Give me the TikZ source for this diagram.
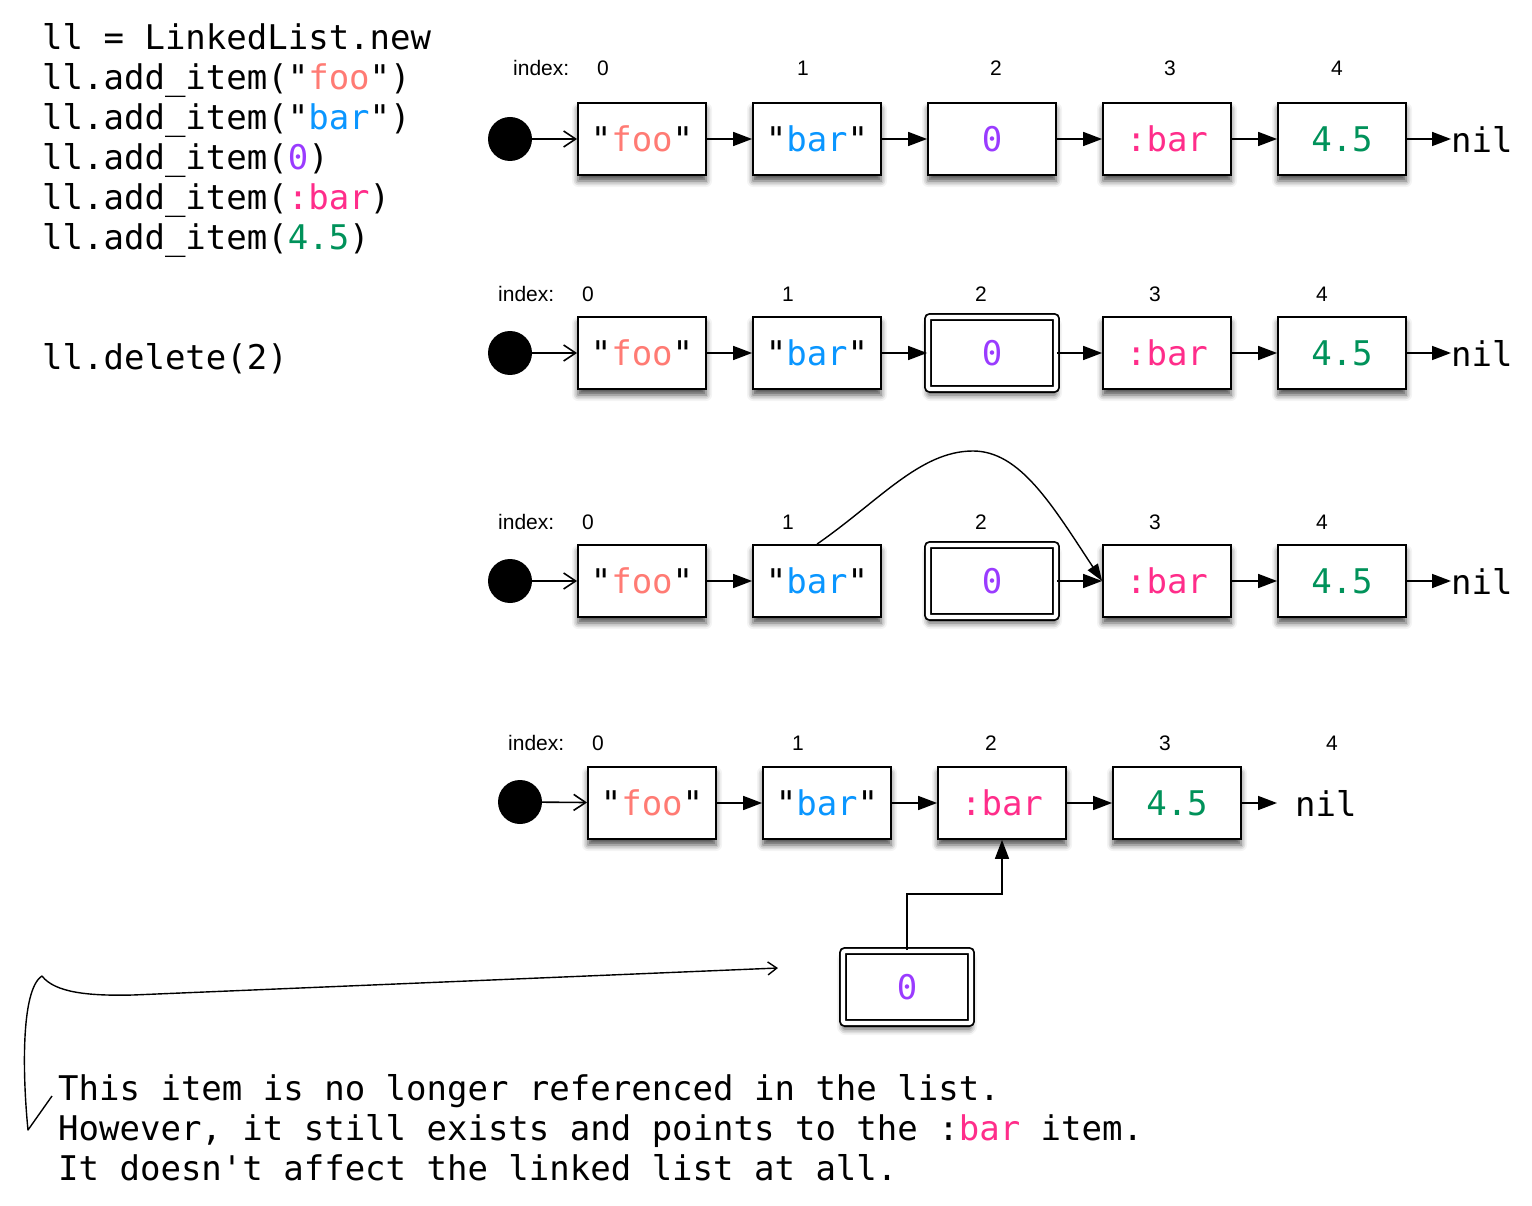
\documentclass[tikz,border=0pt]{standalone}
\usepackage{fontspec}
\setmonofont{DejaVu Sans Mono}
\setsansfont{Liberation Sans}
\usetikzlibrary{arrows.meta,shadows.blur}
\definecolor{cfoo}{HTML}{FF7B74}
\definecolor{cbar}{HTML}{0A96FF}
\definecolor{czero}{HTML}{9A3BFF}
\definecolor{csym}{HTML}{FF2D8A}
\definecolor{cnum}{HTML}{00925A}
\newcommand{\cfoo}{"\textcolor{cfoo}{foo}"}
\newcommand{\cbar}{"\textcolor{cbar}{bar}"}
\newcommand{\czero}{\textcolor{czero}{0}}
\newcommand{\csym}{\textcolor{csym}{:bar}}
\newcommand{\cnum}{\textcolor{cnum}{4.5}}
\begin{document}
\begin{tikzpicture}[x=1pt,y=-1pt,
  mono/.style={font=\ttfamily\fontsize{34}{40}\selectfont},
  code/.style={mono, anchor=base west, inner sep=0pt},
  idx/.style={font=\sffamily\fontsize{21}{24}\selectfont, inner sep=0pt},
  cell/.style={mono, draw, line width=1.8pt, fill=white, minimum width=128pt, minimum height=72pt, inner sep=0pt,
    blur shadow={shadow xshift=0pt, shadow yshift=-6pt, shadow blur radius=6pt, shadow opacity=70}},
  delcell/.style={cell, double, double distance=4.2pt, rounded corners=2pt},
  head/.style={circle, fill=black, minimum size=44pt, inner sep=0pt},
  nilnode/.style={mono, inner sep=0pt, anchor=west},
  fa/.style={line width=1.6pt, -{Triangle[length=19pt,width=14pt]}},
  oa/.style={line width=1.6pt, -{Straight Barb[length=12pt,width=16pt]}},
  thin oa/.style={line width=1.4pt, -{Straight Barb[length=9pt,width=13pt]}},
  brace/.style={line width=1.4pt}
]
\useasboundingbox (0,0) rectangle (1532,1206);

% code
\node[code] (c1) at (42,50) {ll = LinkedList.new};
\node[code] (c2) at (42,90) {ll.add\_item(\cfoo)};
\node[code] (c3) at (42,130) {ll.add\_item(\cbar)};
\node[code] (c4) at (42,170) {ll.add\_item(\czero)};
\node[code] (c5) at (42,210) {ll.add\_item(\textcolor{csym}{:bar})};
\node[code] (c6) at (42,250) {ll.add\_item(\cnum)};
\node[code] (c7) at (42,370) {ll.delete(2)};

% row 1
\node[idx, anchor=west] (i1) at (513,68) {index:};
\node[idx] (i10) at (603,68) {0};
\node[idx] (i11) at (803,68) {1};
\node[idx] (i12) at (996,68) {2};
\node[idx] (i13) at (1170,68) {3};
\node[idx] (i14) at (1337,68) {4};
\node[head] (h1) at (510,139) {};
\node[cell] (r1b1) at (642,139) {\cfoo};
\node[cell] (r1b2) at (817,139) {\cbar};
\node[cell] (r1b3) at (992,139) {\czero};
\node[cell] (r1b4) at (1167,139) {\csym};
\node[cell] (r1b5) at (1342,139) {\cnum};
\node[nilnode] (n1) at (1451,139) {nil};
\draw[oa] (h1) -- (r1b1);
\draw[fa] (r1b1) -- (r1b2);
\draw[fa] (r1b2) -- (r1b3);
\draw[fa] (r1b3) -- (r1b4);
\draw[fa] (r1b4) -- (r1b5);
\draw[fa] (r1b5) -- (n1);

% row 2
\node[idx, anchor=west] (i2) at (498,294) {index:};
\node[idx] (i20) at (588,294) {0};
\node[idx] (i21) at (788,294) {1};
\node[idx] (i22) at (981,294) {2};
\node[idx] (i23) at (1155,294) {3};
\node[idx] (i24) at (1322,294) {4};
\node[head] (h2) at (510,353) {};
\node[cell] (r2b1) at (642,353) {\cfoo};
\node[cell] (r2b2) at (817,353) {\cbar};
\node[delcell] (r2b3) at (992,353) {\czero};
\node[cell] (r2b4) at (1167,353) {\csym};
\node[cell] (r2b5) at (1342,353) {\cnum};
\node[nilnode] (n2) at (1451,353) {nil};
\draw[oa] (h2) -- (r2b1);
\draw[fa] (r2b1) -- (r2b2);
\draw[fa] (r2b2) -- (r2b3);
\draw[fa] (r2b3) -- (r2b4);
\draw[fa] (r2b4) -- (r2b5);
\draw[fa] (r2b5) -- (n2);

% row 3
\node[idx, anchor=west] (i3) at (498,522) {index:};
\node[idx] (i30) at (588,522) {0};
\node[idx] (i31) at (788,522) {1};
\node[idx] (i32) at (981,522) {2};
\node[idx] (i33) at (1155,522) {3};
\node[idx] (i34) at (1322,522) {4};
\node[head] (h3) at (510,581) {};
\node[cell] (r3b1) at (642,581) {\cfoo};
\node[cell] (r3b2) at (817,581) {\cbar};
\node[delcell] (r3b3) at (992,581) {\czero};
\node[cell] (r3b4) at (1167,581) {\csym};
\node[cell] (r3b5) at (1342,581) {\cnum};
\node[nilnode] (n3) at (1451,581) {nil};
\draw[oa] (h3) -- (r3b1);
\draw[fa] (r3b1) -- (r3b2);
\draw[fa] (r3b3) -- (r3b4);
\draw[fa] (r3b4) -- (r3b5);
\draw[fa] (r3b5) -- (n3);
\coordinate (peak) at (973,451);
\draw[line width=1.4pt, -{Triangle[length=17pt,width=12pt]}] (r3b2.north) .. controls +(62,-43) and +(-53,0) .. (peak) .. controls +(47,0) and +(-50,-76) .. (r3b4.west);

% row 4
\node[idx, anchor=west] (i4) at (508,743) {index:};
\node[idx] (i40) at (598,743) {0};
\node[idx] (i41) at (798,743) {1};
\node[idx] (i42) at (991,743) {2};
\node[idx] (i43) at (1165,743) {3};
\node[idx] (i44) at (1332,743) {4};
\node[head] (h4) at (520,802) {};
\node[cell] (r4b1) at (652,803) {\cfoo};
\node[cell] (r4b2) at (827,803) {\cbar};
\node[cell] (r4b3) at (1002,803) {\csym};
\node[cell] (r4b4) at (1177,803) {\cnum};
\node[nilnode] (n4) at (1295,803) {nil};
\coordinate (n4end) at (1277,803);
\draw[oa] (h4) -- (r4b1);
\draw[fa] (r4b1) -- (r4b2);
\draw[fa] (r4b2) -- (r4b3);
\draw[fa] (r4b3) -- (r4b4);
\draw[fa] (r4b4) -- (n4end);

% orphan
\node[delcell] (del) at (907,987) {\czero};
\draw[fa] (del.north) -- ++(0,-56) -| (r4b3.south);

% brace and note
\coordinate (bA) at (52,1096);
\coordinate (bB) at (28,1130);
\coordinate (bC) at (42,976);
\coordinate (bD) at (133,995);
\coordinate (bE) at (778,968);
\draw[brace, thin oa, line join=round] (bA) -- (bB) .. controls (23,1080) and (20,990) .. (bC) .. controls (55,993) and (90,996) .. (bD) -- (bE);
\node[code] (t1) at (58,1100) {This item is no longer referenced in the list.};
\node[code] (t2) at (58,1140) {However, it still exists and points to the :\textcolor{csym}{bar} item.};
\node[code] (t3) at (58,1180) {It doesn't affect the linked list at all.};
\end{tikzpicture}
\end{document}
